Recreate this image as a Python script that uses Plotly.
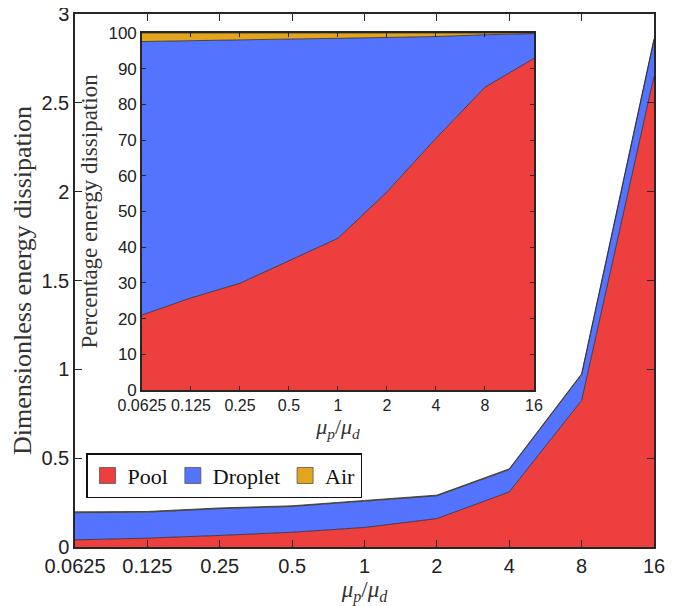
import plotly.graph_objects as go

ratios = [0.0625, 0.125, 0.25, 0.5, 1, 2, 4, 8, 16]
tick_labels = ["0.0625", "0.125", "0.25", "0.5", "1", "2", "4", "8", "16"]

# main plot: absolute dimensionless energy dissipation
pool_abs = [0.040, 0.050, 0.065, 0.083, 0.110, 0.160, 0.310, 0.825, 2.650]
droplet_abs = [0.153, 0.146, 0.151, 0.145, 0.148, 0.128, 0.126, 0.145, 0.204]
air_abs = [0.005, 0.004, 0.004, 0.004, 0.004, 0.004, 0.004, 0.005, 0.006]

# inset: percentages
pool_pct = [21.0, 25.8, 29.9, 36.3, 42.5, 55.5, 70.5, 84.8, 92.9]
droplet_pct = [76.6, 72.1, 68.2, 62.0, 56.0, 43.2, 28.5, 14.7, 6.9]
air_pct = [2.4, 2.1, 1.9, 1.7, 1.5, 1.3, 1.0, 0.5, 0.2]

main_yticks = [0, 0.5, 1, 1.5, 2, 2.5, 3]
main_ylabels = ["0", "0.5", "1", "1.5", "2", "2.5", "3"]
inset_yticks = [0, 10, 20, 30, 40, 50, 60, 70, 80, 90, 100]

names = ["Pool", "Droplet", "Air"]
colors = ["#EE3F3F", "#5474FF", "#E2A61E"]
edge = "#2a2a2a"

fig = go.Figure()
for nm, vals, col in zip(names, [pool_abs, droplet_abs, air_abs], colors):
    fig.add_trace(go.Scatter(x=ratios, y=vals, name=nm, stackgroup="main",
                             mode="lines", line=dict(color=edge, width=0.8),
                             fillcolor=col, xaxis="x", yaxis="y",
                             showlegend=False))
for nm, vals, col in zip(names, [pool_pct, droplet_pct, air_pct], colors):
    fig.add_trace(go.Scatter(x=ratios, y=vals, name=nm, stackgroup="inset",
                             mode="lines", line=dict(color=edge, width=0.8),
                             fillcolor=col, xaxis="x2", yaxis="y2",
                             showlegend=False))
# legend swatches
for nm, col in zip(names, colors):
    fig.add_trace(go.Scatter(x=[None], y=[None], name=nm, mode="markers",
                             marker=dict(symbol="square", size=24, color=col,
                                         line=dict(color="#555", width=0.8)),
                             xaxis="x", yaxis="y", showlegend=True))

sans = "Liberation Sans"
serif = "Liberation Serif"
xtitle = "<i>μ</i><sub><i>p</i></sub>/<i>μ</i><sub><i>d</i></sub>"

axis_common = dict(showline=True, linecolor="#262626", linewidth=1.5,
                   mirror="ticks", ticks="inside", tickcolor="#262626",
                   showgrid=False, zeroline=False, automargin=False,
                   tickangle=0)

# page body adds an 8px offset; compensate in size and margins
fig.update_layout(
    width=677, height=598,
    margin=dict(l=67, r=31, t=6, b=59),
    paper_bgcolor="white", plot_bgcolor="white",
    showlegend=True,
    legend=dict(orientation="h", x=0.019, y=0.176, xanchor="left", yanchor="top",
                bordercolor="#111", borderwidth=1.5, bgcolor="white",
                font=dict(family=serif, size=22, color="#111"),
                itemsizing="trace", traceorder="normal", tracegroupgap=0,
                itemwidth=30),
    xaxis=dict(type="log", range=[-1.2041, 1.2041], tickvals=ratios,
               ticktext=tick_labels, ticklen=7, domain=[0, 1],
               tickfont=dict(family=sans, size=20, color="#222"),
               title=dict(text=xtitle, font=dict(family=serif, size=23, color="#333"),
                          standoff=2),
               **axis_common),
    yaxis=dict(range=[0, 3], tickvals=main_yticks, ticktext=main_ylabels,
               ticklen=7, domain=[0, 1],
               tickfont=dict(family=sans, size=20, color="#222"),
               title=dict(text="Dimensionless energy dissipation",
                          font=dict(family=serif, size=26, color="#333"), standoff=6),
               **axis_common),
    xaxis2=dict(type="log", range=[-1.2041, 1.2041], tickvals=ratios,
                ticktext=tick_labels, ticklen=4, anchor="y2",
                domain=[0.1157, 0.7927],
                tickfont=dict(family=sans, size=16, color="#222"),
                title=dict(text=xtitle, font=dict(family=serif, size=22, color="#333"),
                           standoff=0),
                **axis_common),
    yaxis2=dict(range=[0, 100], tickvals=inset_yticks, ticklen=4, anchor="x2",
                domain=[0.2946, 0.9644],
                tickfont=dict(family=sans, size=17, color="#222"),
                title=dict(text="Percentage energy dissipation",
                           font=dict(family=serif, size=23, color="#333"), standoff=4),
                **axis_common),
)

fig.write_html("out.html")
